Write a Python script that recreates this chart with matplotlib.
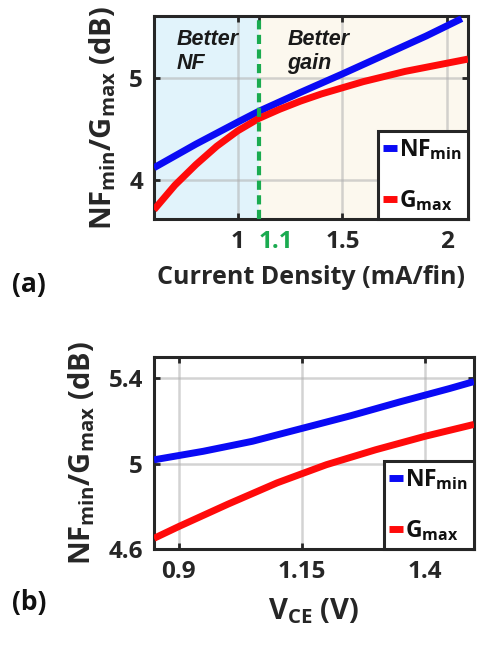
import matplotlib
matplotlib.use("Agg")
import matplotlib.pyplot as plt

FONT = 'Open Sans'
plt.rcParams['font.family'] = [FONT, 'DejaVu Sans']
plt.rcParams['font.weight'] = 'bold'
plt.rcParams['axes.labelweight'] = 'bold'
plt.rcParams['mathtext.fontset'] = 'custom'
plt.rcParams['mathtext.rm'] = FONT + ':bold'
plt.rcParams['mathtext.bf'] = FONT + ':bold'
plt.rcParams['mathtext.it'] = FONT + ':bold'

# (a) NFmin / Gmax vs current density
jc = [0.6, 0.8, 1.0, 1.1, 1.3, 1.5, 1.7, 1.9, 2.07]
nf_jc = [4.12, 4.35, 4.565, 4.67, 4.855, 5.035, 5.22, 5.405, 5.575]
jc_g = [0.6, 0.7, 0.8, 0.9, 1.0, 1.1, 1.2, 1.3, 1.4, 1.5, 1.6, 1.7, 1.8, 1.9, 2.0, 2.1]
g_jc = [3.71, 3.95, 4.15, 4.33, 4.48, 4.60, 4.69, 4.77, 4.84, 4.90, 4.96, 5.01, 5.06, 5.10, 5.14, 5.18]
jc_opt = 1.1
jc_ticks = [1, 1.1, 1.5, 2]
jc_ticklabels = ['1', '1.1', '1.5', '2']

# (b) NFmin / Gmax vs VCE
vce = [0.85, 0.95, 1.05, 1.15, 1.25, 1.35, 1.45, 1.5]
nf_vce = [5.018, 5.058, 5.105, 5.165, 5.225, 5.29, 5.352, 5.385]
vce_g = [0.85, 0.9, 1.0, 1.1, 1.2, 1.3, 1.4, 1.5]
g_vce = [4.65, 4.705, 4.81, 4.91, 4.995, 5.065, 5.128, 5.184]
vce_ticks = [0.9, 1.15, 1.4]
vce_ticklabels = ['0.9', '1.15', '1.4']

dark = '#262626'
blue = '#0a0af5'
red = '#ff0a0a'
green = '#1aab50'

fig = plt.figure(figsize=(4.88, 6.49), dpi=100)
ax1 = fig.add_axes([0.3156, 0.6626, 0.6434, 0.3127])
ax2 = fig.add_axes([0.3156, 0.1541, 0.6557, 0.2958])

ylab = r'NF$_{\mathrm{min}}$/G$_{\mathrm{max}}$ (dB)'


def style(ax):
    for s in ax.spines.values():
        s.set_linewidth(2.2)
        s.set_color(dark)
    ax.tick_params(direction='in', length=4, width=2, top=True, right=True,
                   labelsize=17.5, colors=dark, pad=8)
    ax.grid(True, color='#b0b0b0', alpha=0.55, linewidth=1.8)
    ax.set_axisbelow(True)


# --- panel (a)
ax1.axvspan(0.6, jc_opt, color='#e1f3fb', zorder=0)
ax1.axvspan(jc_opt, 2.1, color='#fcf8ee', zorder=0)
ax1.plot(jc, nf_jc, color=blue, lw=5, label=r'NF$_{\mathrm{min}}$', solid_capstyle='butt', zorder=3)
ax1.plot(jc_g, g_jc, color=red, lw=5, label=r'G$_{\mathrm{max}}$', solid_capstyle='butt', zorder=3)
ax1.axvline(jc_opt, color=green, lw=3, linestyle=(0, (2.2, 1.3)), zorder=4)
ax1.set_xlim(0.6, 2.1)
ax1.set_ylim(3.62, 5.6)
ax1.set_xticks(jc_ticks)
ax1.set_xticklabels(jc_ticklabels)
ax1.set_yticks([4, 5])
style(ax1)
ax1.xaxis.get_gridlines()[1].set_visible(False)
lbl = ax1.get_xticklabels()[1]
lbl.set_color(green)
lbl.set_horizontalalignment('left')
ax1.text(0.71, 5.47, 'Better\nNF', fontsize=15.5, family='Liberation Sans',
         style='italic', weight='bold', va='top', color='#1a1a1a', linespacing=1.15)
ax1.text(1.236, 5.47, 'Better\ngain', fontsize=15.5, family='Liberation Sans',
         style='italic', weight='bold', va='top', color='#1a1a1a', linespacing=1.15)
ax1.set_xlabel('Current Density (mA/fin)', fontsize=18, color=dark, labelpad=8)
ax1.set_ylabel(ylab, fontsize=21, color=dark, labelpad=8)

# --- panel (b)
ax2.plot(vce, nf_vce, color=blue, lw=5, label=r'NF$_{\mathrm{min}}$', solid_capstyle='butt', zorder=3)
ax2.plot(vce_g, g_vce, color=red, lw=5, label=r'G$_{\mathrm{max}}$', solid_capstyle='butt', zorder=3)
ax2.set_xlim(0.85, 1.5)
ax2.set_ylim(4.6, 5.5)
ax2.set_xticks(vce_ticks)
ax2.set_xticklabels(vce_ticklabels)
ax2.set_yticks([4.6, 5, 5.4])
ax2.set_yticklabels(['4.6', '5', '5.4'])
style(ax2)
ax2.set_xlabel(r'V$_{\mathrm{CE}}$ (V)', fontsize=21, color=dark, labelpad=9)
ax2.set_ylabel(ylab, fontsize=21, color=dark, labelpad=8)

for ax in (ax1, ax2):
    leg = ax.legend(loc='lower right', fontsize=16.5, handlelength=0.6,
                    handletextpad=0.1, borderaxespad=0, borderpad=0.25,
                    labelspacing=1.15, fancybox=False, framealpha=1,
                    edgecolor=dark)
    leg.get_frame().set_linewidth(2.2)
    for t in leg.get_texts():
        t.set_color('#111111')

fig.text(0.025, 0.561, '(a)', fontsize=19, color='#111111', va='center')
fig.text(0.025, 0.071, '(b)', fontsize=19, color='#111111', va='center')

fig.savefig('out.png', dpi=100)
